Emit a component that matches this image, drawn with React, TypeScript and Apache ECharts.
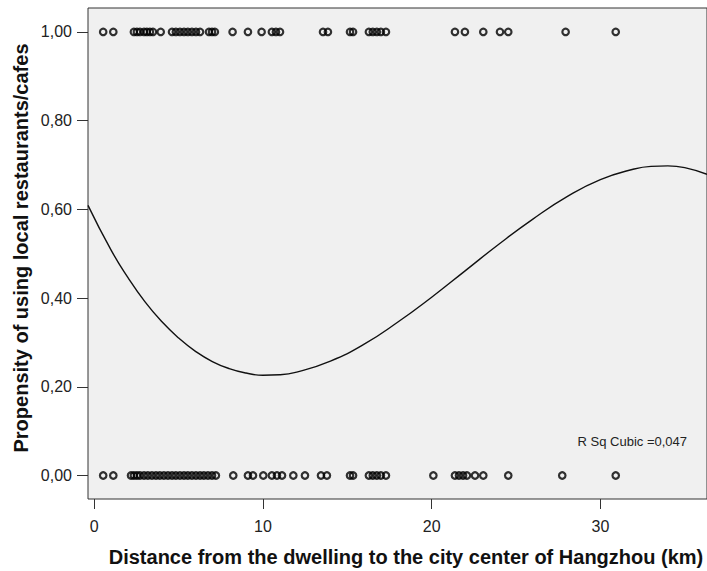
import React, { useEffect, useRef } from "react";
import * as echarts from "echarts";

// Observations with propensity = 1 (distance, km)
const topX: number[] = [
  0.53, 1.13, 2.35, 2.53, 2.71, 2.95, 3.12, 3.3, 3.48, 3.94, 4.61, 4.84, 5.08,
  5.32, 5.55, 5.79, 6.03, 6.27, 6.8, 6.98, 7.15, 8.2, 9.11, 9.92, 10.53, 10.77,
  11.01, 13.56, 13.85, 15.16, 15.34, 16.28, 16.51, 16.75, 16.99, 17.29, 21.38,
  21.97, 23.06, 24.05, 24.54, 27.94, 30.91,
];

// Observations with propensity = 0 (distance, km)
const bottomX: number[] = [
  0.53, 1.13, 2.18, 2.35, 2.53, 2.71, 2.95, 3.18, 3.42, 3.66, 3.89, 4.13, 4.37,
  4.61, 4.84, 5.08, 5.32, 5.55, 5.79, 6.03, 6.27, 6.5, 6.74, 6.98, 7.21, 8.24,
  9.11, 9.41, 10.02, 10.53, 10.83, 11.13, 11.8, 12.49, 13.44, 13.79, 15.16,
  15.34, 16.28, 16.51, 16.75, 16.99, 17.29, 20.1, 21.38, 21.62, 21.86, 22.09,
  22.57, 23.06, 24.54, 27.74, 30.91,
];

// Cubic fit line
const curveX: number[] = [
  -0.37, 1, 2, 3, 4, 5, 6, 7, 8, 9, 10, 11, 12, 14, 16, 18, 20, 22, 24, 26, 28,
  30, 32, 33, 34, 35, 36.32,
];
const curveY: number[] = [
  0.609, 0.508, 0.446, 0.392, 0.347, 0.31, 0.28, 0.257, 0.241, 0.231, 0.226,
  0.227, 0.233, 0.258, 0.296, 0.346, 0.402, 0.462, 0.522, 0.578, 0.628, 0.667,
  0.691, 0.697, 0.698, 0.694, 0.679,
];

const xTicks: number[] = [0, 10, 20, 30];
const yTicks: number[] = [0, 0.2, 0.4, 0.6, 0.8, 1.0];

const xTitle = "Distance from the dwelling to the city center of Hangzhou (km)";
const yTitle = "Propensity of using local restaurants/cafes";
const rsqText = "R Sq Cubic =0,047";

export default function App() {
  const ref = useRef<HTMLDivElement>(null);

  useEffect(() => {
    if (!ref.current) return;
    const chart = echarts.init(ref.current, null, { renderer: "svg" });
    const font = "'Liberation Sans', Arial, sans-serif";
    const frame = "#333333";
    const pointStyle = {
      color: "rgba(0,0,0,0)",
      borderColor: "#000000",
      borderWidth: 2.2,
    };
    chart.setOption({
      animation: false,
      backgroundColor: "#ffffff",
      grid: {
        left: 88,
        top: 8,
        bottom: 72,
        right: -3,
        show: true,
        backgroundColor: "#f0f0f0",
        borderColor: frame,
        borderWidth: 1,
      },
      xAxis: {
        type: "value",
        min: -0.37,
        max: 36.32,
        axisLine: { show: false, onZero: false },
        splitLine: { show: false },
        axisTick: {
          show: true,
          length: 10,
          customValues: xTicks,
          lineStyle: { color: frame, width: 1 },
        },
        axisLabel: {
          customValues: xTicks,
          margin: 19,
          fontFamily: font,
          fontSize: 16,
          color: "#222222",
          formatter: (v: number) => String(v),
        },
      },
      yAxis: {
        type: "value",
        min: -0.053,
        max: 1.054,
        axisLine: { show: false, onZero: false },
        splitLine: { show: false },
        axisTick: {
          show: true,
          length: 11,
          customValues: yTicks,
          lineStyle: { color: frame, width: 1 },
        },
        axisLabel: {
          customValues: yTicks,
          margin: 16,
          fontFamily: font,
          fontSize: 16,
          color: "#222222",
          formatter: (v: number) => v.toFixed(2).replace(".", ","),
        },
      },
      graphic: [
        {
          type: "text",
          x: 406,
          y: 557,
          style: {
            text: xTitle,
            font: `bold 20px ${font}`,
            fill: "#111111",
            align: "center",
            verticalAlign: "middle",
          },
        },
        {
          type: "text",
          x: 21,
          y: 248,
          rotation: Math.PI / 2,
          style: {
            text: yTitle,
            font: `bold 20px ${font}`,
            fill: "#111111",
            align: "center",
            verticalAlign: "middle",
          },
        },
        {
          type: "text",
          x: 687,
          y: 441,
          style: {
            text: rsqText,
            font: `13px ${font}`,
            fill: "#222222",
            align: "right",
            verticalAlign: "middle",
          },
        },
      ],
      series: [
        {
          type: "line",
          data: curveX.map((x, i) => [x, curveY[i]]),
          smooth: 0.5,
          showSymbol: false,
          clip: true,
          lineStyle: { color: "#111111", width: 1.4 },
          z: 3,
        },
        {
          type: "scatter",
          data: topX.map((x) => [x, 1]),
          symbol: "circle",
          symbolSize: 6.5,
          itemStyle: pointStyle,
          z: 4,
        },
        {
          type: "scatter",
          data: bottomX.map((x) => [x, 0]),
          symbol: "circle",
          symbolSize: 6.5,
          itemStyle: pointStyle,
          z: 4,
        },
      ],
    });
    return () => chart.dispose();
  }, []);

  return (
    <div
      ref={ref}
      style={{ position: "fixed", left: 0, top: 0, width: 707, height: 571 }}
    />
  );
}
